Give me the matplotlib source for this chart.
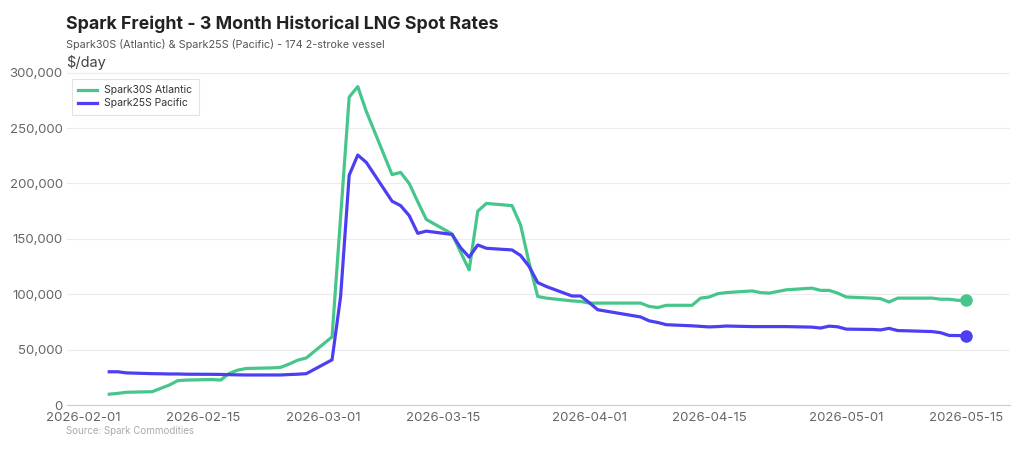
import matplotlib
matplotlib.use("Agg")
import matplotlib.pyplot as plt
import matplotlib.dates as mdates
import matplotlib.ticker as mticker
import pandas as pd

plt.rcParams['font.family'] = ['Inter', 'DejaVu Sans']

# business days published (Good Friday / Easter Monday skipped)
dates = [
    "2026-02-04", "2026-02-05", "2026-02-06", "2026-02-09", "2026-02-10",
    "2026-02-11", "2026-02-12", "2026-02-13", "2026-02-16", "2026-02-17",
    "2026-02-18", "2026-02-19", "2026-02-20", "2026-02-23", "2026-02-24",
    "2026-02-25", "2026-02-26", "2026-02-27", "2026-03-02", "2026-03-03",
    "2026-03-04", "2026-03-05", "2026-03-06", "2026-03-09", "2026-03-10",
    "2026-03-11", "2026-03-12", "2026-03-13", "2026-03-16", "2026-03-17",
    "2026-03-18", "2026-03-19", "2026-03-20", "2026-03-23", "2026-03-24",
    "2026-03-25", "2026-03-26", "2026-03-27", "2026-03-30", "2026-03-31",
    "2026-04-01", "2026-04-02", "2026-04-07", "2026-04-08", "2026-04-09",
    "2026-04-10", "2026-04-13", "2026-04-14", "2026-04-15", "2026-04-16",
    "2026-04-17", "2026-04-20", "2026-04-21", "2026-04-22", "2026-04-23",
    "2026-04-24", "2026-04-27", "2026-04-28", "2026-04-29", "2026-04-30",
    "2026-05-01", "2026-05-04", "2026-05-05", "2026-05-06", "2026-05-07",
    "2026-05-08", "2026-05-11", "2026-05-12", "2026-05-13", "2026-05-14",
    "2026-05-15",
]

atlantic = [
    9750, 10500, 11500, 12000, 15000,
    18000, 22000, 22500, 23000, 22500,
    28500, 31500, 33000, 33500, 34000,
    37000, 40500, 42500, 61500, 170000,
    278000, 287500, 265000, 208000, 210000,
    200000, 183500, 167500, 154500, 138000,
    122000, 175000, 182000, 180000, 162500,
    128000, 98000, 96500, 94000, 93500,
    92000, 92000, 92000, 89000, 88000,
    90000, 90000, 96500, 97500, 100500,
    101500, 103000, 101500, 101000, 102500,
    104000, 105500, 103500, 103500, 101000,
    97500, 96500, 96000, 93000, 96500,
    96500, 96500, 95500, 95500, 94500,
    94500,
]

pacific = [
    30000, 30000, 29000, 28300, 28200,
    28000, 28000, 27800, 27700, 27600,
    27400, 27200, 27100, 27100, 27100,
    27500, 27800, 28300, 40800, 98000,
    207500, 225700, 219000, 184000, 180000,
    171000, 155000, 157000, 154000, 142000,
    133500, 144500, 141500, 140000, 135000,
    125000, 110500, 107000, 98400, 98400,
    92500, 86000, 79500, 76000, 74500,
    72500, 71500, 71000, 70500, 70800,
    71300, 70800, 70800, 70800, 70800,
    70800, 70300, 69500, 71200, 70600,
    68500, 68200, 67800, 69200, 67200,
    67000, 66300, 65300, 62800, 62700,
    62700,
]

green = "#47C68B"
blue = "#4C3FF2"

dt = pd.to_datetime(dates)

fig = plt.figure(figsize=(10.24, 4.5), dpi=100)
ax = fig.add_axes([0.0654, 0.1, 0.9209, 0.7433])

ax.plot(dt, atlantic, color=green, lw=2.3, label="Spark30S Atlantic", solid_joinstyle="round")
ax.plot(dt, pacific, color=blue, lw=2.3, label="Spark25S Pacific", solid_joinstyle="round")
ax.plot(dt[-1:], atlantic[-1:], "o", color=green, ms=8)
ax.plot(dt[-1:], pacific[-1:], "o", color=blue, ms=8)

start = pd.Timestamp("2026-02-01")
ax.set_xlim(start - pd.Timedelta(days=1.93), start + pd.Timedelta(days=108.1))
ax.set_ylim(0, 302000)

ax.xaxis.set_major_locator(mdates.DayLocator(bymonthday=[1, 15]))
ax.xaxis.set_major_formatter(mdates.DateFormatter("%Y-%m-%d"))
ax.yaxis.set_major_locator(mticker.MultipleLocator(50000))
ax.yaxis.set_major_formatter(mticker.FuncFormatter(lambda v, p: f"{int(v):,}"))

ax.grid(axis="y", color="#ececec", lw=0.8)
ax.set_axisbelow(True)
for s in ["top", "right", "left"]:
    ax.spines[s].set_visible(False)
ax.spines["bottom"].set_color("#d0d0d0")
ax.spines["bottom"].set_linewidth(0.9)
ax.tick_params(axis="both", length=0, labelsize=9.5, colors="#666666", pad=3)
ax.tick_params(axis="x", pad=5)

leg = ax.legend(loc="upper left", bbox_to_anchor=(0.005, 0.976), borderaxespad=0,
                fontsize=7.5, frameon=True, fancybox=False, edgecolor="#dddddd",
                handlelength=1.8, handletextpad=0.7, borderpad=0.65,
                labelspacing=0.3, labelcolor="#333333")
leg.get_frame().set_linewidth(0.8)

fig.text(0.0645, 0.935, "Spark Freight - 3 Month Historical LNG Spot Rates",
         fontsize=12.8, fontweight="bold", color="#222222", va="baseline")
fig.text(0.0645, 0.893, "Spark30S (Atlantic) & Spark25S (Pacific) - 174 2-stroke vessel",
         fontsize=7.8, color="#555555", va="baseline")
fig.text(0.0645, 0.852, "$/day", fontsize=10.5, color="#444444", va="baseline")
fig.text(0.0645, 0.035, "Source: Spark Commodities", fontsize=7, color="#aaaaaa", va="baseline")

fig.savefig("out.png", dpi=100, facecolor="white")
